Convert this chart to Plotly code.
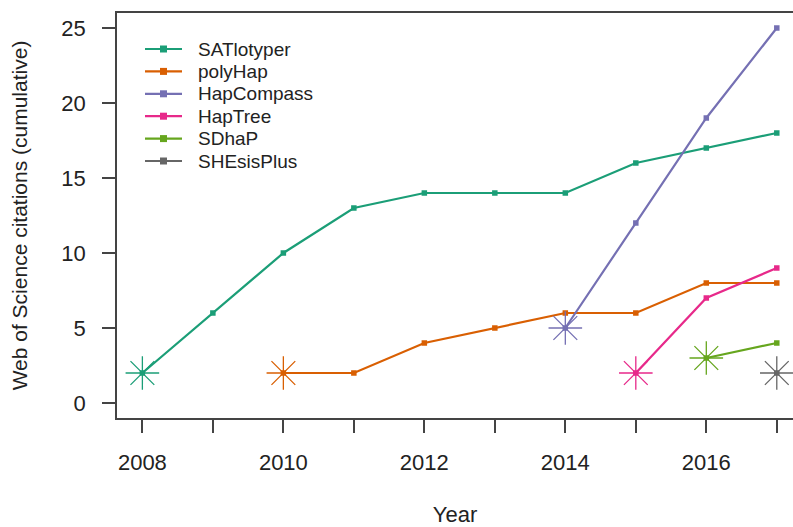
import plotly.graph_objects as go

# Cumulative Web of Science citations per haplotyping tool
years_satlotyper = [2008, 2009, 2010, 2011, 2012, 2013, 2014, 2015, 2016, 2017]
cites_satlotyper = [2, 6, 10, 13, 14, 14, 14, 16, 17, 18]

years_polyhap = [2010, 2011, 2012, 2013, 2014, 2015, 2016, 2017]
cites_polyhap = [2, 2, 4, 5, 6, 6, 8, 8]

years_hapcompass = [2014, 2015, 2016, 2017]
cites_hapcompass = [5, 12, 19, 25]

years_haptree = [2015, 2016, 2017]
cites_haptree = [2, 7, 9]

years_sdhap = [2016, 2017]
cites_sdhap = [3, 4]

years_shesisplus = [2017]
cites_shesisplus = [2]

tools = ["SATlotyper", "polyHap", "HapCompass", "HapTree", "SDhaP", "SHEsisPlus"]
series_years = [years_satlotyper, years_polyhap, years_hapcompass,
                years_haptree, years_sdhap, years_shesisplus]
series_cites = [cites_satlotyper, cites_polyhap, cites_hapcompass,
                cites_haptree, cites_sdhap, cites_shesisplus]
colors = ["#1B9E77", "#D95F02", "#7570B3", "#E7298A", "#66A61E", "#666666"]

x_ticks = list(range(2008, 2018))
x_tick_text = [str(y) if y % 2 == 0 else "" for y in x_ticks]
y_ticks = [0, 5, 10, 15, 20, 25]

FONT = "Liberation Sans, Arial, Helvetica, sans-serif"
W, H = 793, 527
M_L, M_R, M_T, M_B = 117, 0, 13, 109
PLOT_W = W - M_L - M_R
PLOT_H = H - M_T - M_B

fig = go.Figure()

for name, xs, ys, col in zip(tools, series_years, series_cites, colors):
    # line with small square markers
    fig.add_trace(go.Scatter(
        x=xs, y=ys, name=name, mode="lines+markers",
        line=dict(color=col, width=2.2),
        marker=dict(symbol="square", size=5.5, color=col),
        showlegend=False,
    ))
    # large asterisk marking the first year with citations
    fig.add_trace(go.Scatter(
        x=xs[:1], y=ys[:1], mode="markers", showlegend=False, hoverinfo="skip",
        marker=dict(symbol="asterisk-open", size=28, color=col,
                    line=dict(color=col, width=1.3)),
    ))


def px_x(px):
    return (px - M_L) / PLOT_W


def px_y(py):
    return (H - M_B - py) / PLOT_H


# Legend drawn in the upper-left corner of the panel
shapes = []
annotations = []
for i, (name, col) in enumerate(zip(tools, colors)):
    row_y = 49 + 22.4 * i
    shapes.append(dict(type="line", xref="paper", yref="paper",
                       x0=px_x(145), x1=px_x(182), y0=px_y(row_y), y1=px_y(row_y),
                       line=dict(color=col, width=2.2)))
    shapes.append(dict(type="rect", xref="paper", yref="paper",
                       xsizemode="pixel", ysizemode="pixel",
                       xanchor=px_x(163.5), yanchor=px_y(row_y),
                       x0=-3.5, x1=3.5, y0=-3.5, y1=3.5,
                       fillcolor=col, line=dict(width=0)))
    annotations.append(dict(xref="paper", yref="paper", x=px_x(196), y=px_y(row_y),
                            xanchor="left", yanchor="middle", showarrow=False,
                            text=name, font=dict(size=19, color="#222222")))

axis_color = "#444444"

fig.update_layout(
    width=W, height=H,
    margin=dict(l=M_L, r=M_R, t=M_T, b=M_B),
    paper_bgcolor="white", plot_bgcolor="white",
    font=dict(family=FONT, size=22, color="#222222"),
    showlegend=False,
    shapes=shapes,
    annotations=annotations,
    xaxis=dict(
        range=[2007.64, 2017.23], tickvals=x_ticks, ticktext=x_tick_text,
        showgrid=False, zeroline=False,
        showline=True, mirror=True, linecolor=axis_color, linewidth=1.5,
        ticks="outside", ticklen=13, tickwidth=1.5, tickcolor=axis_color,
        ticklabelstandoff=11, tickfont=dict(size=22),
        title=dict(text="Year", standoff=33, font=dict(size=22)),
    ),
    yaxis=dict(
        range=[-1, 26], tickvals=y_ticks,
        showgrid=False, zeroline=False,
        showline=True, mirror=False, linecolor=axis_color, linewidth=1.5,
        ticks="outside", ticklen=13, tickwidth=1.5, tickcolor=axis_color,
        ticklabelstandoff=12, tickfont=dict(size=22),
        title=dict(text="Web of Science citations (cumulative)", standoff=28,
                   font=dict(size=21)),
    ),
)

fig.write_html("out.html")
